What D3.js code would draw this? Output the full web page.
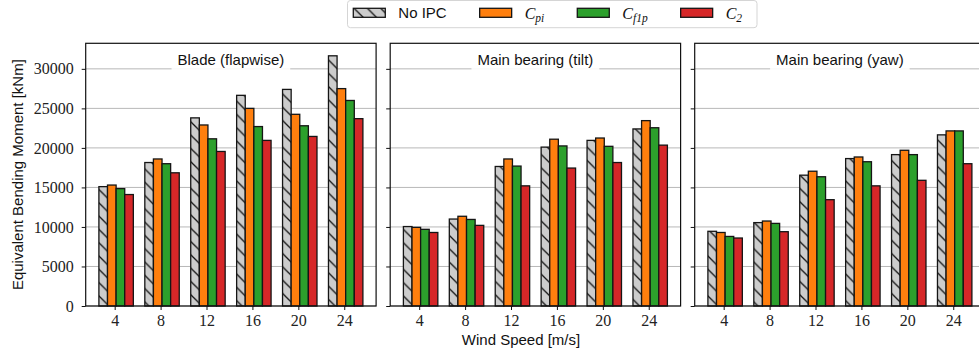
<!DOCTYPE html>
<html>
<head>
<meta charset="utf-8">
<script src="https://cdn.jsdelivr.net/npm/d3@7"></script>
<style>
  body { margin: 0; background: #fff; }
  svg { display: block; }
</style>
</head>
<body>
<svg id="chart" width="979" height="358"></svg>
<script>
// Wind speeds (x categories) and y tick values
const windSpeeds = [4, 8, 12, 16, 20, 24];
const yTickValues = [0, 5000, 10000, 15000, 20000, 25000, 30000];
const panelTitles = ["Blade (flapwise)", "Main bearing (tilt)", "Main bearing (yaw)"];

// Equivalent bending moments [kNm] – blade flapwise
const bladeNoIPC = [15100, 18150, 23800, 26650, 27400, 31650];
const bladeCpi   = [15300, 18600, 22900, 25000, 24250, 27500];
const bladeCf1p  = [14850, 18000, 21150, 22700, 22800, 26000];
const bladeC2    = [14100, 16850, 19550, 20950, 21450, 23700];

// Main bearing (tilt)
const tiltNoIPC = [10050, 11000, 17650, 20100, 20950, 22400];
const tiltCpi   = [9950, 11350, 18600, 21100, 21250, 23450];
const tiltCf1p  = [9700, 10950, 17700, 20250, 20200, 22550];
const tiltC2    = [9300, 10200, 15200, 17450, 18150, 20350];

// Main bearing (yaw)
const yawNoIPC = [9450, 10550, 16550, 18650, 19150, 21650];
const yawCpi   = [9300, 10750, 17050, 18850, 19700, 22150];
const yawCf1p  = [8800, 10450, 16350, 18250, 19150, 22150];
const yawC2    = [8600, 9400, 13450, 15200, 15900, 18000];

const panelSeries = [
  [bladeNoIPC, bladeCpi, bladeCf1p, bladeC2],
  [tiltNoIPC, tiltCpi, tiltCf1p, tiltC2],
  [yawNoIPC, yawCpi, yawCf1p, yawC2]
];

// Legend entries: plain label or C with subscript
const legendLabels = [
  { text: "No IPC" },
  { base: "C", sub: "pi" },
  { base: "C", sub: "f1p" },
  { base: "C", sub: "2" }
];
const seriesFill = ["url(#hatch)", "#ff7f0e", "#2ca02c", "#d62728"];

const SANS = "'Liberation Sans', Arial, sans-serif";
const SERIF = "'Liberation Serif', 'Times New Roman', serif";

const svg = d3.select("#chart");

// hatch pattern for the baseline bars
const hs = 13.3;
const defs = svg.append("defs");
const pat = defs.append("pattern")
  .attr("id", "hatch")
  .attr("patternUnits", "userSpaceOnUse")
  .attr("width", hs).attr("height", hs);
pat.append("rect").attr("width", hs).attr("height", hs).attr("fill", "#cccccc");
pat.append("path")
  .attr("d", `M-1,-1 L${hs + 1},${hs + 1} M-3,${hs - 3} L3,${hs + 3} M${hs - 3},-3 L${hs + 3},3`)
  .attr("stroke", "#111").attr("stroke-width", 1.3).attr("fill", "none");

// layout
const panelLefts = [85.7, 390.2, 694.7];
const pw = 290.4, plotTop = 43.3, ph = 306 - 43.3;

// bar geometry in wind-speed units
const barW = 0.75, groupShift = -1;
const xMinData = windSpeeds[0] + groupShift - barW / 2;
const xMaxData = windSpeeds[windSpeeds.length - 1] + groupShift + 3 * barW + barW / 2;
const xPad = (xMaxData - xMinData) * 0.05;
const x = d3.scaleLinear().domain([xMinData - xPad, xMaxData + xPad]).range([0, pw]);

const maxAll = d3.max(panelSeries.flat(2));
const y = d3.scaleLinear().domain([0, maxAll * 1.05]).range([ph, 0]);

panelSeries.forEach((series, p) => {
  const g = svg.append("g").attr("transform", `translate(${panelLefts[p]},${plotTop})`);

  // horizontal grid
  g.append("g").selectAll("line").data(yTickValues).join("line")
    .attr("x1", 0).attr("x2", pw)
    .attr("y1", d => y(d)).attr("y2", d => y(d))
    .attr("stroke", "#b8b8b8").attr("stroke-width", 1);

  // bars
  series.forEach((vals, s) => {
    g.append("g").selectAll("rect").data(vals).join("rect")
      .attr("x", (d, i) => x(windSpeeds[i] + groupShift + s * barW - barW / 2))
      .attr("width", x(barW) - x(0))
      .attr("y", d => y(d))
      .attr("height", d => y(0) - y(d))
      .attr("fill", seriesFill[s])
      .attr("stroke", "#151515").attr("stroke-width", 1.3);
  });

  // panel title with translucent white box
  const tg = g.append("g");
  const tt = tg.append("text")
    .attr("x", pw / 2).attr("y", 16)
    .attr("dy", "0.35em")
    .attr("text-anchor", "middle")
    .style("font-family", SANS).style("font-size", "15px").attr("fill", "#111")
    .text(panelTitles[p]);
  const bb = tt.node().getBBox();
  tg.insert("rect", "text")
    .attr("x", bb.x - 6).attr("y", 4.5)
    .attr("width", bb.width + 12).attr("height", 22.5)
    .attr("fill", "#fff").attr("fill-opacity", 0.88);

  // axes
  const xAxis = d3.axisBottom(x).tickValues(windSpeeds).tickSize(4).tickPadding(5).tickFormat(d3.format("d"));
  const xg = g.append("g").attr("transform", `translate(0,${ph})`).call(xAxis);
  xg.select(".domain").remove();
  xg.selectAll("text").style("font-family", SERIF).style("font-size", "16px").attr("fill", "#222");
  xg.selectAll("line").attr("stroke", "#111");

  const yAxis = d3.axisLeft(y).tickValues(yTickValues).tickSize(4).tickPadding(8)
    .tickFormat(p === 0 ? d3.format("d") : () => "");
  const yg = g.append("g").call(yAxis);
  yg.select(".domain").remove();
  yg.selectAll("text").style("font-family", SERIF).style("font-size", "16px").attr("fill", "#222");
  yg.selectAll("line").attr("stroke", "#111");

  // frame
  g.append("rect").attr("x", 0).attr("y", 0).attr("width", pw).attr("height", ph)
    .attr("fill", "none").attr("stroke", "#111").attr("stroke-width", 1.2);
});

// axis labels
svg.append("text")
  .attr("transform", `translate(18,${plotTop + ph / 2}) rotate(-90)`)
  .attr("text-anchor", "middle").attr("dy", "0.35em")
  .style("font-family", SANS).style("font-size", "15px").attr("fill", "#111")
  .text("Equivalent Bending Moment [kNm]");

svg.append("text")
  .attr("x", 521).attr("y", 340).attr("dy", "0.35em")
  .attr("text-anchor", "middle")
  .style("font-family", SANS).style("font-size", "15px").attr("fill", "#111")
  .text("Wind Speed [m/s]");

// legend
const lg = svg.append("g");
const lbox = lg.append("rect");
let cx = 353.3;
const patchW = 32, patchH = 9, patchY = 8.3, textGap = 13, colGap = 33;
legendLabels.forEach((lab, i) => {
  lg.append("rect").attr("x", cx).attr("y", patchY).attr("width", patchW).attr("height", patchH)
    .attr("fill", seriesFill[i]).attr("stroke", "#151515").attr("stroke-width", 1.3);
  const t = lg.append("text").attr("x", cx + patchW + textGap).attr("y", 13).attr("dy", "0.35em")
    .attr("fill", "#111");
  if (lab.text) {
    t.style("font-family", SANS).style("font-size", "15px").text(lab.text);
  } else {
    t.style("font-family", SERIF).style("font-style", "italic").style("font-size", "16px");
    t.append("tspan").text(lab.base);
    t.append("tspan").attr("dy", "3").style("font-size", "11.5px").text(lab.sub);
  }
  const w = t.node().getComputedTextLength();
  cx = cx + patchW + textGap + w + colGap;
});
lbox.attr("x", 347.5).attr("y", 0.5).attr("width", 757 - 347.5).attr("height", 27.2)
  .attr("rx", 3).attr("fill", "#fff").attr("stroke", "#d5d5d5").attr("stroke-width", 1);
</script>
</body>
</html>
